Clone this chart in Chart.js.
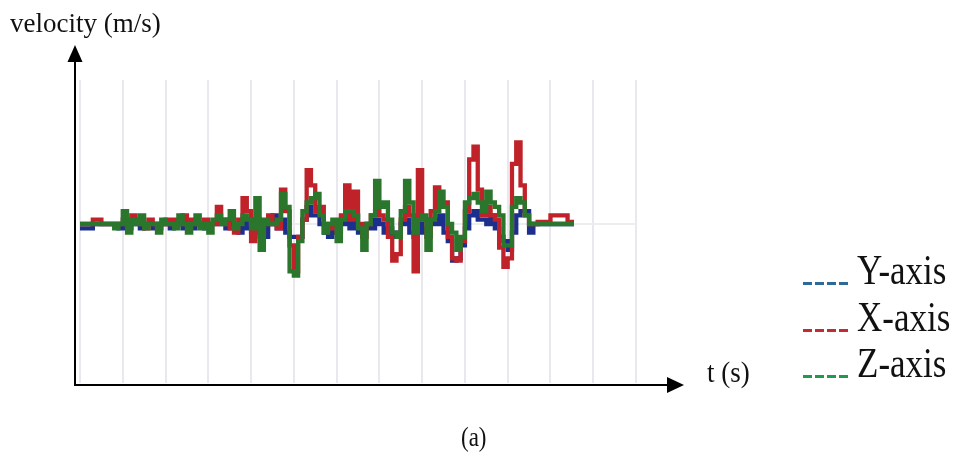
<!DOCTYPE html>
<html>
<head>
<meta charset="utf-8">
<script src="https://cdn.jsdelivr.net/npm/chart.js@4.4.1/dist/chart.umd.min.js"></script>
<style>
  body { margin: 0; background: #fff; }
  #wrap { position: relative; width: 955px; height: 454px; overflow: hidden; }
  #chart { position: absolute; left: 0; top: 0; }
  .lbl { position: absolute; font-family: "Liberation Serif", "DejaVu Serif", serif; color: #111; white-space: nowrap; line-height: 1; }
  .leg { position: absolute; left: 803px; height: 3px; width: 45px; }
  .legtxt { position: absolute; left: 857px; font-family: "Liberation Serif", serif; font-size: 35px; line-height: 1; color: #111; transform: scaleY(1.2); transform-origin: 0 100%; }
</style>
</head>
<body>
<div id="wrap">
  <canvas id="chart" width="955" height="454"></canvas>
  <div class="lbl" style="left:10px; top:10px; font-size:27px;">velocity (m/s)</div>
  <div class="lbl" style="left:707px; top:361px; font-size:27px; transform:scaleY(1.12); transform-origin:0 100%;">t (s)</div>
  <div class="lbl" style="left:461px; top:428px; font-size:23px; transform:scaleY(1.15); transform-origin:0 100%;">(a)</div>
  <div id="legend"></div>
</div>
<script>
// ---------- data (one step ~ one sample, zero line in the middle) ----------
const seriesNames = ['Y-axis', 'X-axis', 'Z-axis'];
const seriesColors = ['#1c2f8c', '#bf2228', '#2a762c'];
const legendColors = ['#2b6a9b', '#c42a32', '#1f9a4f'];

const yAxisVel = [
  -1,-1,-1,0,0,0,0,0,0,-1,
  0,-1,0,0,-1,0,0,-1,0,0,
  0,-1,0,0,-1,0,-1,0,0,-1,
  0,0,1,0,-1,1,0,-2,1,-1,
  -2,1,-3,-3,0,2,-1,1,-2,-3,
  -3,-3,1,4,2,2,0,-2,-3,-1,
  -2,0,1,-1,2,-2,-1,0,-1,1,
  0,-2,-1,-3,-2,0,1,-2,-3,0,
  -2,-1,1,0,2,-2,-4,-8.5,-8,-5,
  -1,2,3,1,1,0,2,-1,-3,-4,
  -6,-2,2,3,3,-2,0,0,0,0,
  0,0,0,0,0,0
];
const xAxisVel = [
  0,0,0,1,1,0,0,0,0,0,
  1,0,2,1,0,-1,1,0,-1,0,
  1,0,1,0,2,0,1,0,0,1,
  0,0,4,1,0,-1,-2,1,6,3,
  -4,1,-2,0,2,0,-1,8,3,-5,
  -11,-3,1,12.5,9,3,4,0,-1,0,
  -2,2,9,1,7.5,0,-3,0,2,3,
  2,1,-3,-8.5,-7,1,4,2,-11,12.5,
  1,-3,3,8.5,4,5,-3,-8,-8.5,-4,
  3,15,18,8,2,4,2,1,-5.5,-10,
  -8,14,19,9,2,0,0,0.5,0.5,0.5,
  2,2,2,2,0.5,0.5
];
const zAxisVel = [
  0,0,0,0,0,0,0,0,-1,0,
  3,-2,1,0,2,-1,0,0,-2,1,
  0,0,-1,2,0,-2,0,2,-1,0,
  -2,1,2,0,1,3,-1,0,2,1,
  -1,6,-6,1,0,0,1,7,4,-11,
  -12,-4,3,5,6,7,2,-2,0,1,
  -4,1,3,3,2,-1,-6,0,2,10,
  4,5,1,-2,-3,3,10,5,-2,1,
  2,-6,1,3,7.5,4,0,-2,-6,-3,
  5,6,7,5,3,7.5,5,4,2,-5,
  -5,4,6,5,2,0,0,0,0,0,
  0,0,0,0,0,0
];
const allSeries = [yAxisVel, xAxisVel, zAxisVel];
const sampleIdx = yAxisVel.map((_, i) => i);
const drawOrder = [3, 2, 1];

// ---------- arrows for the two axes ----------
const arrowAxes = {
  id: 'arrowAxes',
  afterDraw(chart) {
    const ctx = chart.ctx;
    const a = chart.chartArea;
    const ox = a.left - 5, oy = a.bottom + 2;
    ctx.save();
    ctx.strokeStyle = '#000';
    ctx.fillStyle = '#000';
    ctx.lineWidth = 2;
    ctx.beginPath();
    ctx.moveTo(ox, oy);
    ctx.lineTo(ox, 60);
    ctx.moveTo(ox - 1, oy);
    ctx.lineTo(670, oy);
    ctx.stroke();
    ctx.beginPath();
    ctx.moveTo(ox, 45);
    ctx.lineTo(ox - 7.5, 62);
    ctx.lineTo(ox + 7.5, 62);
    ctx.closePath();
    ctx.fill();
    ctx.beginPath();
    ctx.moveTo(684, oy);
    ctx.lineTo(667, oy - 8);
    ctx.lineTo(667, oy + 8);
    ctx.closePath();
    ctx.fill();
    ctx.restore();
  }
};

const datasets = allSeries.map((vals, k) => ({
  label: seriesNames[k],
  data: vals.map((v, i) => ({ x: sampleIdx[i], y: v })),
  borderColor: seriesColors[k],
  borderWidth: 4.3,
  borderCapStyle: 'square',
  borderJoinStyle: 'miter',
  stepped: true,
  pointRadius: 0,
  fill: false,
  order: drawOrder[k]
}));

new Chart(document.getElementById('chart'), {
  type: 'line',
  data: { datasets },
  options: {
    responsive: false,
    animation: false,
    devicePixelRatio: 1,
    layout: { padding: { left: 80, top: 80, right: 319, bottom: 71 } },
    plugins: { legend: { display: false }, tooltip: { enabled: false } },
    scales: {
      x: {
        type: 'linear', min: 0, max: 130,
        ticks: { display: false, stepSize: 10 },
        grid: { color: '#e8e8ee', lineWidth: 2, drawTicks: false },
        border: { display: false }
      },
      y: {
        min: -37, max: 33.5,
        afterBuildTicks: s => { s.ticks = [{ value: 0 }]; },
        ticks: { display: false },
        grid: { color: '#ededf0', lineWidth: 2, drawTicks: false },
        border: { display: false }
      }
    }
  },
  plugins: [arrowAxes]
});

// legend as real text
const legendTops = [285, 332, 378];
const legendHtml = seriesNames.map((name, k) => {
  const c = legendColors[k];
  return `<div class="leg" style="top:${legendTops[k] - 3}px; background: repeating-linear-gradient(90deg, ${c} 0 9px, transparent 9px 12px);"></div>` +
         `<div class="legtxt" style="top:${legendTops[k] - 29}px;">${name}</div>`;
}).join('');
document.getElementById('legend').innerHTML = legendHtml;
</script>
</body>
</html>
